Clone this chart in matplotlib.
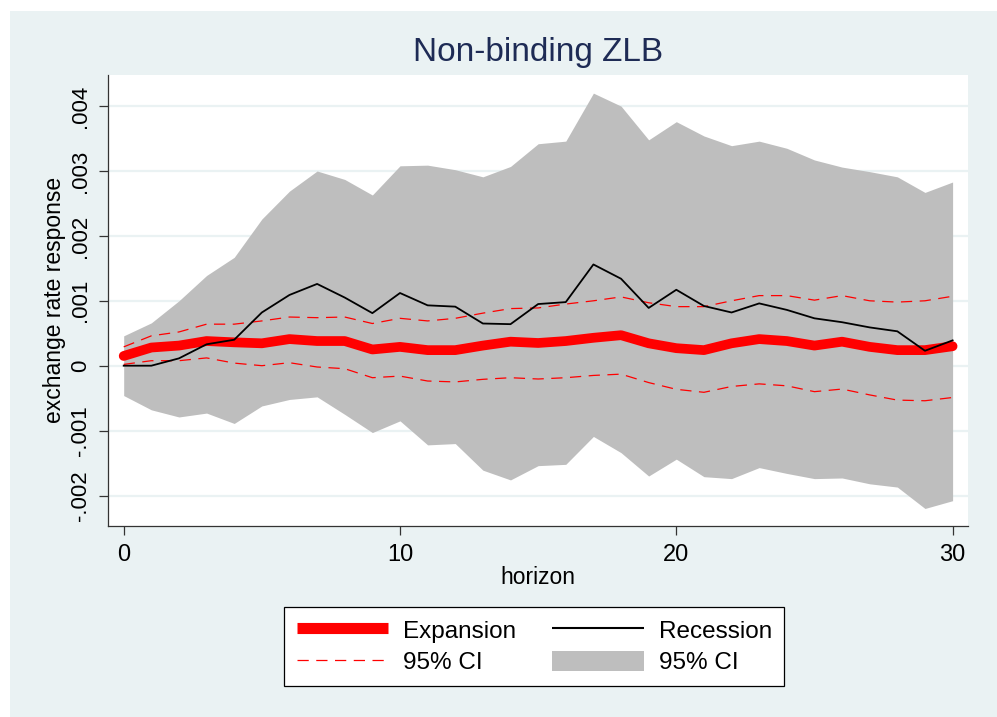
import numpy as np
import matplotlib
matplotlib.use("Agg")
import matplotlib.pyplot as plt
from matplotlib.patches import Rectangle, Patch
from matplotlib.lines import Line2D

plt.rcParams['font.family'] = ['Liberation Sans', 'DejaVu Sans']

horizon = list(range(31))

expansion = [0.00015, 0.00028, 0.00031, 0.00038, 0.00036, 0.000345, 0.00041, 0.00038, 0.00038, 0.00025,
             0.00029, 0.00024, 0.00024, 0.00031, 0.00037, 0.00035, 0.00038, 0.00043, 0.00047, 0.000345,
             0.00027, 0.00024, 0.000345, 0.00041, 0.00038, 0.00031, 0.00037, 0.00029, 0.00024, 0.00024,
             0.0003]
exp_upper = [0.00029, 0.00046, 0.00052, 0.00064, 0.00064, 0.00069, 0.00075, 0.00074, 0.00075, 0.00065,
             0.00073, 0.00069, 0.00073, 0.00081, 0.00088, 0.00089, 0.00095, 0.0010, 0.00106, 0.00097,
             0.00091, 0.00091, 0.0010, 0.00108, 0.00108, 0.00101, 0.00108, 0.0010, 0.00098, 0.0010,
             0.00107]
exp_lower = [0.00002, 0.000077, 0.000077, 0.00012, 0.00004, 0.0, 0.000046, -0.00002, -0.000046, -0.000185,
             -0.00016, -0.000236, -0.00025, -0.00021, -0.000185, -0.000205, -0.000185, -0.00015, -0.00013, -0.00026,
             -0.000364, -0.00041, -0.00032, -0.00028, -0.00031, -0.0004, -0.00036, -0.00045, -0.00053, -0.00054,
             -0.00049]
recession = [0.0, 0.0, 0.000113, 0.00033, 0.0004, 0.00082, 0.00109, 0.00126, 0.00105, 0.00081,
             0.00112, 0.00093, 0.00091, 0.00065, 0.00064, 0.00095, 0.00098, 0.00156, 0.00134, 0.00089,
             0.00117, 0.00092, 0.00082, 0.00096, 0.00086, 0.00073, 0.00067, 0.00059, 0.00053, 0.00023,
             0.00039]
rec_upper = [0.00046, 0.00066, 0.0010, 0.00139, 0.00167, 0.00226, 0.00269, 0.003, 0.00287, 0.00263,
             0.00308, 0.00309, 0.00302, 0.00291, 0.00307, 0.00342, 0.00346, 0.0042, 0.0040, 0.00348,
             0.00376, 0.00354, 0.00339, 0.00346, 0.00335, 0.00317, 0.00306, 0.00299, 0.00291, 0.00267,
             0.00283]
rec_lower = [-0.00046, -0.00068, -0.00079, -0.00073, -0.00089, -0.00062, -0.00052, -0.00048, -0.00075, -0.00103,
             -0.00085, -0.00122, -0.0012, -0.00161, -0.00176, -0.00154, -0.00152, -0.00109, -0.00134, -0.0017,
             -0.00144, -0.00171, -0.00174, -0.00157, -0.00166, -0.00174, -0.00173, -0.00182, -0.00187, -0.0022,
             -0.00208]

yticks = [-0.002, -0.001, 0.0, 0.001, 0.002, 0.003, 0.004]
ytick_labels = ["-.002", "-.001", "0", ".001", ".002", ".003", ".004"]
xticks = [0, 10, 20, 30]

bg = "#EAF2F3"
fig = plt.figure(figsize=(9.97, 7.17), dpi=100)
fig.patch.set_facecolor("white")
fig.patches.append(Rectangle((10 / 997, 0), 1 - 10 / 997, 1 - 11 / 717, transform=fig.transFigure,
                             facecolor=bg, edgecolor="none", zorder=-10))

ax = fig.add_axes([108 / 997, 1 - 525.5 / 717, (968 - 108) / 997, (525.5 - 75) / 717])
ax.set_facecolor("white")

ax.fill_between(horizon, rec_lower, rec_upper, color="#BEBEBE", linewidth=0, zorder=2)
ax.plot(horizon, expansion, color="red", linewidth=7.0, solid_capstyle="round", solid_joinstyle="round", zorder=4)
ax.plot(horizon, recession, color="black", linewidth=1.3, zorder=5)
ax.plot(horizon, exp_upper, color="red", linewidth=0.9, dashes=(9, 6), zorder=3)
ax.plot(horizon, exp_lower, color="red", linewidth=0.9, dashes=(9, 6), zorder=3)

x0 = 0 - (123.7 - 108) / 27.63
x1 = 30 + (968 - 952.6) / 27.63
ax.set_xlim(x0, x1)
ax.set_ylim((365.7 - 525.5) / 64.9 * 0.001, (365.7 - 75) / 64.9 * 0.001)

ax.set_yticks(yticks)
ax.set_yticklabels(ytick_labels, rotation=90, va="center")
ax.set_xticks(xticks)
ax.set_xticklabels([str(t) for t in xticks])

ax.grid(axis="y", color=bg, linewidth=1.6, zorder=1)
ax.set_axisbelow(True)
for s in ["top", "right"]:
    ax.spines[s].set_visible(False)
for s in ["left", "bottom"]:
    ax.spines[s].set_color("#333333")
    ax.spines[s].set_linewidth(0.9)
ax.tick_params(axis="both", direction="out", length=6.5, width=0.9, color="#333333", labelcolor="black")
ax.tick_params(axis="x", labelsize=17, pad=7)
ax.tick_params(axis="y", labelsize=16, pad=6)

fig.text(538 / 997, 1 - 53 / 717, "Non-binding ZLB", ha="center", va="center", fontsize=24, color="#1E2B55")
fig.text(54 / 997, 1 - 300 / 717, "exchange rate response", rotation=90, ha="center", va="center", fontsize=16.5)
fig.text(538 / 997, 1 - 578 / 717, "horizon", ha="center", va="center", fontsize=16.5)

handles = [
    Line2D([], [], color="red", linewidth=8, solid_capstyle="butt"),
    Line2D([], [], color="red", linewidth=0.9, dashes=(9, 6), dash_capstyle="butt"),
    Line2D([], [], color="black", linewidth=1.5, solid_capstyle="butt"),
    Patch(facecolor="#BEBEBE", edgecolor="none"),
]
labels = ["Expansion", "95% CI", "Recession", "95% CI"]
leg = fig.legend(handles, labels, ncol=2, loc="center", bbox_to_anchor=(534.2 / 997, 1 - 646.7 / 717),
                 fontsize=17.5, frameon=True, fancybox=False, edgecolor="black", framealpha=1,
                 handlelength=3.75, handletextpad=0.62, columnspacing=1.5, labelspacing=0.33,
                 borderpad=0.5, handleheight=0.9)
leg.get_frame().set_linewidth(0.9)

fig.savefig("out.png", dpi=100, facecolor=fig.get_facecolor())
